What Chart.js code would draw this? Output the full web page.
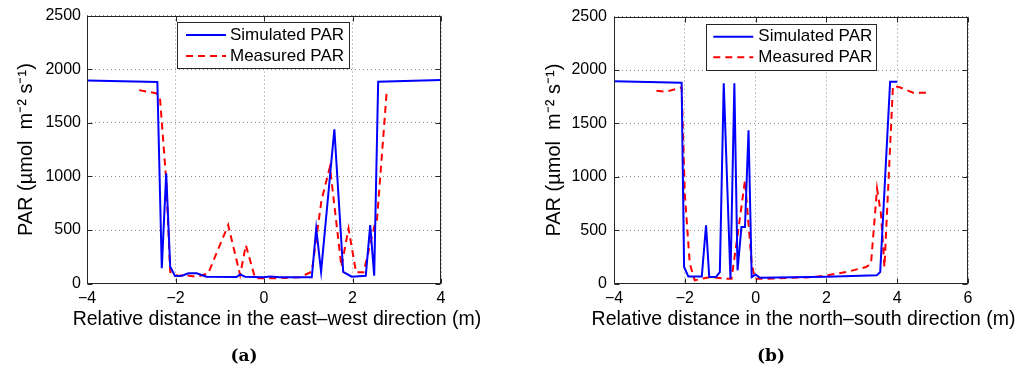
<!DOCTYPE html>
<html><head><meta charset="utf-8">
<script src="https://cdn.jsdelivr.net/npm/chart.js@4"></script>
<style>
html,body{margin:0;padding:0;background:#fff;width:1024px;height:373px;overflow:hidden}
.wrap{position:absolute;top:0;width:512px;height:373px}
.cap{position:absolute;font:bold 17px "DejaVu Serif",serif;color:#000;transform:translate(-50%,-50%);white-space:nowrap}
.xt{position:absolute;font:19.5px "Liberation Sans",Arial,sans-serif;line-height:19.5px;color:#000;transform:translateX(-50%);white-space:nowrap}
</style></head><body>
<div class="wrap" style="left:0"><canvas id="ca" width="512" height="373"></canvas></div>
<div class="wrap" style="left:512px"><canvas id="cb" width="512" height="373"></canvas></div>
<div class="xt" id="xta" style="left:277px;top:308.5px"></div>
<div class="xt" id="xtb" style="left:803.5px;top:308.5px"></div>
<div class="cap" style="left:244px;top:354.5px">(a)</div>
<div class="cap" style="left:771px;top:354.5px">(b)</div>
<script>
// ---- data ----
const seriesNames = ['Simulated PAR', 'Measured PAR'];

// (a) east-west
const ewSimX  = [-4, -2.41, -2.31, -2.21, -2.12, -2.01, -1.85, -1.71, -1.52, -1.30, -0.62, -0.54, -0.43, -0.01, 0.14, 0.36, 1.08, 1.18, 1.29, 1.59, 1.79, 1.98, 2.30, 2.40, 2.49, 2.58, 4.0];
const ewSimY  = [1895, 1880, 145, 1030, 158, 72, 75, 97, 97, 65, 62, 87, 65, 60, 66, 60, 60, 516, 112, 1440, 110, 65, 73, 547, 75, 1883, 1900];
const ewMeasX = [-2.82, -2.43, -2.35, -2.21, -2.12, -1.94, -1.82, -1.52, -1.26, -0.81, -0.54, -0.41, -0.20, 0.21, 0.81, 1.08, 1.30, 1.49, 1.75, 1.91, 2.08, 2.25, 2.51, 2.55, 2.77];
const ewMeasY = [1805, 1775, 1728, 966, 110, 72, 81, 65, 97, 547, 81, 360, 50, 50, 60, 112, 780, 1090, 158, 516, 106, 106, 563, 578, 1775];

// (b) north-south
const nsSimX  = [-4, -2.09, -2.02, -1.90, -1.52, -1.40, -1.31, -1.12, -1.01, -0.90, -0.71, -0.60, -0.51, -0.40, -0.30, -0.20, -0.11, 0.0, 0.12, 2.0, 3.42, 3.52, 3.80, 4.0];
const nsSimY  = [1895, 1881, 156, 68, 68, 547, 62, 62, 109, 1875, 47, 1875, 125, 531, 531, 1437, 62, 87, 56, 65, 78, 109, 1890, 1890];
const nsMeasX = [-2.80, -2.52, -2.09, -2.00, -1.86, -1.72, -1.52, -1.29, -0.82, -0.68, -0.49, -0.30, -0.11, -0.02, 0.31, 1.62, 2.0, 2.56, 3.12, 3.26, 3.43, 3.54, 3.64, 3.88, 4.07, 4.45, 4.82];
const nsMeasY = [1806, 1797, 1838, 844, 190, 31, 47, 62, 47, 47, 500, 968, 187, 47, 47, 62, 78, 109, 156, 187, 890, 656, 156, 1850, 1838, 1788, 1788];

// ticks
const ewTickValues = [-4, -2, 0, 2, 4];
const ewTickLabels = ['\u22124', '\u22122', '0', '2', '4'];
const nsTickValues = [-4, -2, 0, 2, 4, 6];
const nsTickLabels = ['\u22124', '\u22122', '0', '2', '4', '6'];
const yTickValues  = [0, 500, 1000, 1500, 2000, 2500];
const yTickLabels  = ['0', '500', '1000', '1500', '2000', '2500'];

const xTitleA = 'Relative distance in the east\u2013west direction (m)';
const xTitleB = 'Relative distance in the north\u2013south direction (m)';
const yTitle  = 'PAR (\u00b5mol  m\u207b\u00b2 s\u207b\u00b9)';

document.getElementById('xta').textContent = xTitleA;
document.getElementById('xtb').textContent = xTitleB;

// ---- drawing ----
const FONT = '"Liberation Sans", Arial, Helvetica, sans-serif';
Chart.defaults.font.family = FONT;
Chart.defaults.color = '#000';

const pts = (xs, ys) => xs.map((x, i) => ({x: x, y: ys[i]}));

const framePlugin = {
  id: 'frameLegend',
  afterDatasetsDraw(chart, args, opts) {
    const ctx = chart.ctx, a = chart.chartArea;
    const L = Math.round(a.left) + 0.5, R = Math.round(a.right) - 0.5;
    const T = Math.round(a.top) + 0.5, B = Math.round(a.bottom) - 0.5;
    ctx.save();
    ctx.strokeStyle = '#262626';
    ctx.lineWidth = 1;
    ctx.setLineDash([]);
    ctx.strokeRect(L, T, R - L, B - T);
    // inward tick marks
    const tk = 5;
    ctx.beginPath();
    chart.scales.x.ticks.forEach(t => {
      const px = Math.round(chart.scales.x.getPixelForValue(t.value)) + 0.5;
      ctx.moveTo(px, B); ctx.lineTo(px, B - tk);
      ctx.moveTo(px, T); ctx.lineTo(px, T + tk);
    });
    chart.scales.y.ticks.forEach(t => {
      const py = Math.round(chart.scales.y.getPixelForValue(t.value)) + 0.5;
      ctx.moveTo(L, py); ctx.lineTo(L + tk, py);
      ctx.moveTo(R, py); ctx.lineTo(R - tk, py);
    });
    ctx.stroke();
    // legend box
    const b = opts.box;
    if (b) {
      ctx.fillStyle = '#fff';
      ctx.fillRect(b.x, b.y, b.w, b.h);
      ctx.strokeStyle = '#262626';
      ctx.strokeRect(Math.round(b.x) + 0.5, Math.round(b.y) + 0.5, Math.round(b.w), Math.round(b.h));
      ctx.font = '17px ' + FONT;
      ctx.textBaseline = 'middle';
      ctx.textAlign = 'left';
      chart.data.datasets.forEach((ds, i) => {
        const cy = b.y + b.rows[i];
        ctx.strokeStyle = ds.borderColor;
        ctx.lineWidth = ds.borderWidth;
        ctx.setLineDash(ds.borderDash || []);
        ctx.beginPath();
        ctx.moveTo(b.x + b.l0, cy); ctx.lineTo(b.x + b.l1, cy);
        ctx.stroke();
        ctx.setLineDash([]);
        ctx.fillStyle = '#000';
        ctx.fillText(ds.label, b.x + b.tx, cy);
      });
    }
    ctx.restore();
  }
};

function makeChart(id, simX, simY, measX, measY, xMin, xMax, tickVals, tickLbls, geo) {
  return new Chart(document.getElementById(id), {
    type: 'line',
    data: {
      datasets: [
        {label: seriesNames[0], data: pts(simX, simY), borderColor: '#0000ff', borderWidth: 2,
         pointRadius: 0, tension: 0, fill: false},
        {label: seriesNames[1], data: pts(measX, measY), borderColor: '#ff0000', borderWidth: 2,
         borderDash: [7, 5], pointRadius: 0, tension: 0, fill: false}
      ]
    },
    options: {
      responsive: false, animation: false, devicePixelRatio: 1,
      layout: {padding: {left: 0, top: 15.5, right: geo.padRight, bottom: 0}},
      plugins: {legend: {display: false}, tooltip: {enabled: false}, frameLegend: {box: geo.legend}},
      scales: {
        x: {
          type: 'linear', position: 'bottom', min: xMin, max: xMax,
          afterBuildTicks: s => { s.ticks = tickVals.map(v => ({value: v})); },
          afterFit: s => { s.height = 89.3; },
          ticks: {callback: (v, i) => tickLbls[i], font: {size: 16}, color: '#000', padding: 5,
                  maxRotation: 0, autoSkip: false},
          grid: {color: 'rgba(0,0,0,0.45)', lineWidth: 1, drawTicks: false},
          border: {display: false, dash: [1, 3]},
          title: {display: false}
        },
        y: {
          type: 'linear', position: 'left', min: 0, max: 2500,
          afterBuildTicks: s => { s.ticks = yTickValues.map(v => ({value: v})); },
          afterFit: s => { s.width = geo.yWidth; },
          ticks: {callback: (v, i) => yTickLabels[i], font: {size: 16}, color: '#000', padding: geo.yTickPad,
                  autoSkip: false},
          grid: {color: 'rgba(0,0,0,0.45)', lineWidth: 1, drawTicks: false},
          border: {display: false, dash: [1, 3]},
          title: {display: true, text: yTitle, font: {size: 20}, color: '#000', padding: {top: geo.yTitlePad, bottom: 0}}
        }
      }
    },
    plugins: [framePlugin]
  });
}

makeChart('ca', ewSimX, ewSimY, ewMeasX, ewMeasY, -4, 4, ewTickValues, ewTickLabels,
  {padRight: 71, yWidth: 87, yTickPad: 6, yTitlePad: 14.7,
   legend: {x: 177.3, y: 22.3, w: 172, h: 46, rows: [12.7, 33.7], l0: 8.7, l1: 48.7, tx: 52.7}});
makeChart('cb', nsSimX, nsSimY, nsMeasX, nsMeasY, -4, 6, nsTickValues, nsTickLabels,
  {padRight: 56, yWidth: 102, yTickPad: 7, yTitlePad: 30.7,
   legend: {x: 193.7, y: 24, w: 170.3, h: 46, rows: [12.7, 33.3], l0: 7.6, l1: 47.6, tx: 52.6}});
</script>
</body></html>
